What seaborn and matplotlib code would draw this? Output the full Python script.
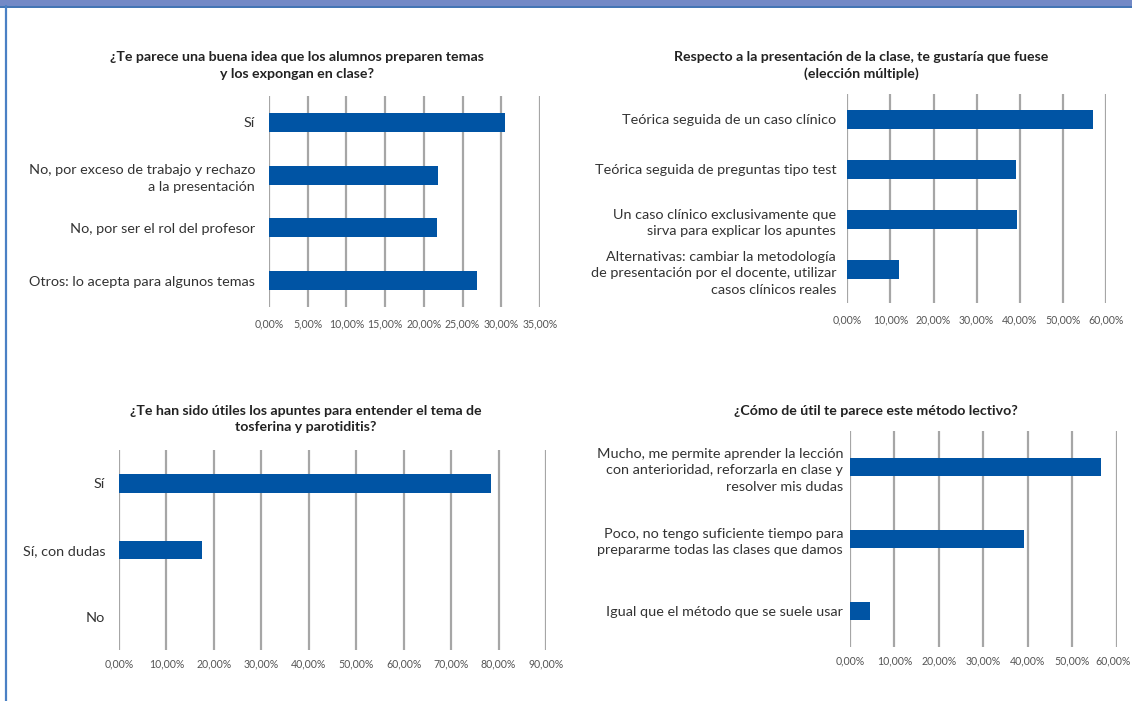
import matplotlib
matplotlib.use("Agg")
import matplotlib.pyplot as plt
import seaborn as sns
import pandas as pd
from matplotlib.ticker import MultipleLocator, FuncFormatter
from matplotlib.lines import Line2D
from matplotlib.patches import Rectangle
from matplotlib.transforms import ScaledTranslation

sns.set_theme(style="white")
plt.rcParams['font.family'] = ['Lato', 'DejaVu Sans']

# ---- data ----
q1_title = "¿Te parece una buena idea que los alumnos preparen temas\ny los expongan en clase?"
q1_cats = ["Sí", "No, por exceso de trabajo y rechazo\na la presentación",
           "No, por ser el rol del profesor", "Otros: lo acepta para algunos temas"]
q1_vals = [30.5, 21.8, 21.7, 26.9]

q2_title = "Respecto a la presentación de la clase, te gustaría que fuese\n(elección múltiple)"
q2_cats = ["Teórica seguida de un caso clínico", "Teórica seguida de preguntas tipo test",
           "Un caso clínico exclusivamente que\nsirva para explicar los apuntes",
           "Alternativas: cambiar la metodología\nde presentación por el docente, utilizar\ncasos clínicos reales"]
q2_vals = [56.9, 39.1, 39.4, 11.9]

q3_title = "¿Te han sido útiles los apuntes para entender el tema de\ntosferina y parotiditis?"
q3_cats = ["Sí", "Sí, con dudas", "No"]
q3_vals = [78.5, 17.4, 0.0]

q4_title = "¿Cómo de útil te parece este método lectivo?"
q4_cats = ["Mucho, me permite aprender la lección\ncon anterioridad, reforzarla en clase y\nresolver mis dudas",
           "Poco, no tengo suficiente tiempo para\nprepararme todas las clases que damos",
           "Igual que el método que se suele usar"]
q4_vals = [56.4, 39.1, 4.5]

W, H = 1132, 701
fig = plt.figure(figsize=(W / 100, H / 100), dpi=100)

BAR = "#0054a4"
GRID = "#a6a6a6"
TXT = "#333333"
TICK = "#555555"

def px_axes(x0, x1, y0, y1):
    return fig.add_axes([x0 / W, 1 - y1 / H, (x1 - x0) / W, (y1 - y0) / H])

def fmt(v, pos):
    return f"{v:.2f}%".replace(".", ",")

def draw(ax, cats, vals, xmax, step, width, ylim, labpad, tickpad):
    df = pd.DataFrame({"cat": cats, "val": vals})
    sns.barplot(data=df, x="val", y="cat", orient="h", color=BAR, width=width,
                saturation=1, linewidth=0, ax=ax, zorder=3)
    ax.set_xlim(0, xmax)
    ax.set_ylim(*ylim)
    ax.xaxis.set_major_locator(MultipleLocator(step))
    ax.xaxis.set_major_formatter(FuncFormatter(fmt))
    ax.grid(axis="x", color=GRID, linewidth=1.6, zorder=0)
    ax.grid(axis="y", visible=False)
    for s in ax.spines.values():
        s.set_visible(False)
    ax.set_xlabel("")
    ax.set_ylabel("")
    ax.tick_params(axis="x", length=0, pad=tickpad, labelsize=7.6, labelcolor=TICK)
    ax.tick_params(axis="y", length=0, pad=labpad, labelsize=10.4, labelcolor=TXT)
    for t in ax.get_yticklabels():
        t.set_multialignment("right")
        t.set_linespacing(1.45)
    ax.set_facecolor("none")

ax1 = px_axes(269, 540, 96, 307)
draw(ax1, q1_cats, q1_vals, 35, 5, 0.36, (3.5, -0.5), 10, 8)
ax2 = px_axes(847.3, 1106, 94, 303)
draw(ax2, q2_cats, q2_vals, 60, 10, 0.38, (3.66, -0.5), 8, 8)
ax3 = px_axes(119, 546, 450, 650)
draw(ax3, q3_cats, q3_vals, 90, 10, 0.28, (2.5, -0.5), 10, 6)
ax4 = px_axes(850, 1116.7, 431, 647)
draw(ax4, q4_cats, q4_vals, 60, 10, 0.26, (2.5, -0.5), 5, 6)

# keep the last tick label of the right-hand bottom chart inside the figure
fig.canvas.draw()
last = [t for t in ax4.get_xticklabels() if t.get_text() == "60,00%"]
for t in last:
    t.set_transform(t.get_transform() + ScaledTranslation(-4 / 100, 0, fig.dpi_scale_trans))

def title(x, y, s):
    fig.text(x / W, 1 - y / H, s, ha="center", va="top", fontsize=10.2,
             fontweight="bold", color="#222222", linespacing=1.45)

title(297, 51, q1_title)
title(861, 51, q2_title)
title(306, 405, q3_title)
title(876, 405, q4_title)

# frame decoration: header band and left border
fig.patches.append(Rectangle((0, 1 - 6 / H), 1, 6 / H, transform=fig.transFigure,
                             facecolor="#7389c6", edgecolor="none", zorder=0))
fig.lines.append(Line2D([0, 1], [1 - 6.5 / H, 1 - 6.5 / H], transform=fig.transFigure,
                        color="#1f5aa6", linewidth=1.2))
fig.lines.append(Line2D([6 / W, 6 / W], [0, 1 - 6 / H], transform=fig.transFigure,
                        color="#4a80c4", linewidth=1.6))

fig.savefig("out.png", dpi=100)
